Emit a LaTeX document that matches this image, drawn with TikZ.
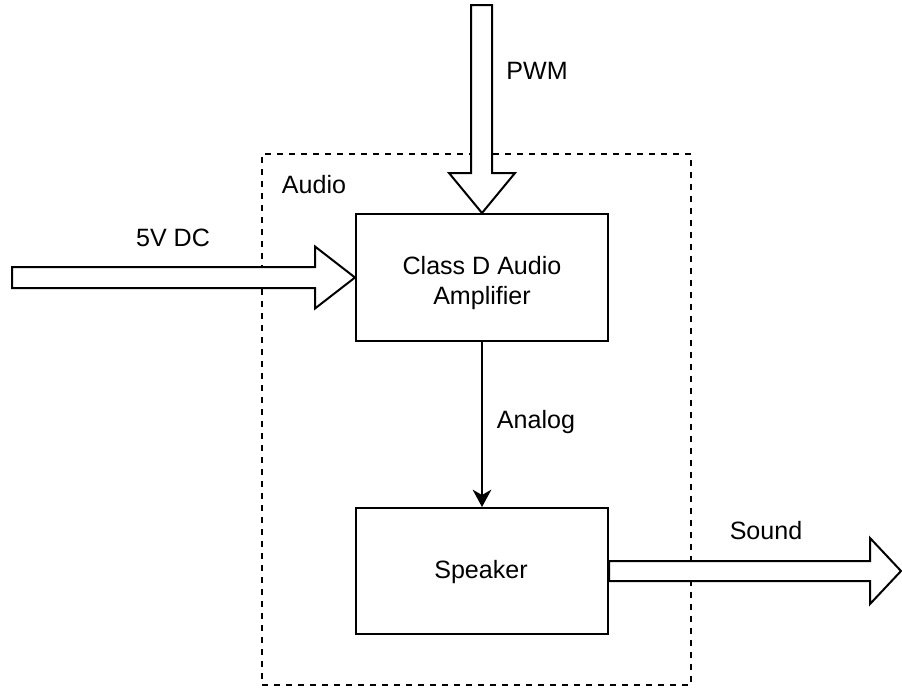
\documentclass[tikz,border=0pt]{standalone}
\usepackage{fontspec}
\setmainfont{Liberation Sans}
\usetikzlibrary{arrows.meta,calc}
\begin{document}
\begin{tikzpicture}[x=0.75pt,y=-0.75pt,
  box/.style={draw, line width=1.5pt, minimum width=189pt, align=center, inner sep=0pt},
  group/.style={draw, line width=1.5pt, dash pattern=on 4.5pt off 4.5pt, minimum width=321.75pt, minimum height=398.25pt, inner sep=0pt},
  fat/.style={draw, line width=1.5pt, fill=white, line join=miter},
  lbl/.style={anchor=base, inner sep=0pt},
  conn/.style={line width=1.5pt, -{Stealth[length=13pt,width=14pt,inset=4pt]}},
  font=\fontsize{18.8}{23}\selectfont]
\useasboundingbox (0,0) rectangle (902,687);
\node[group] (audio) at (476.5,419.5) {};
\node[box, minimum height=95.25pt] (amp) at (482,277.5) {};
\node[align=center, inner sep=0pt] (ampt) at (482,283) {Class D Audio\\Amplifier};
\node[box, minimum height=94.5pt] (spk) at (482,571) {};
\node[lbl] (spkt) at (481,578) {Speaker};
\draw[conn] (amp.south) -- (spk.north);
% PWM fat arrow
\draw[fat] (amp.north) -- ++(-33,-40) -- ++(22,0) -- ++(0,-168) -- ++(21,0) -- ++(0,168) -- ++(23,0) -- cycle;
% 5V DC fat arrow
\draw[fat] (amp.west) -- ++(-40,-31) -- ++(0,20.5) -- ++(-303,0) -- ++(0,21) -- ++(303,0) -- ++(0,20.5) -- cycle;
% Sound fat arrow
\draw[fat] ($(spk.east)+(0,-10)$) -- ++(261,0) -- ++(0,-23) -- ++(31,33) -- ++(-31,33) -- ++(0,-23) -- ++(-261,0) -- cycle;
\node[lbl] (pwm) at (537,79) {PWM};
\node[lbl] (dc) at (173,246) {5V DC};
\node[lbl] (snd) at (766,539) {Sound};
\node[lbl] (aud) at (314,193) {Audio};
\node[lbl] (ana) at (536,428) {Analog};
\end{tikzpicture}
\end{document}
